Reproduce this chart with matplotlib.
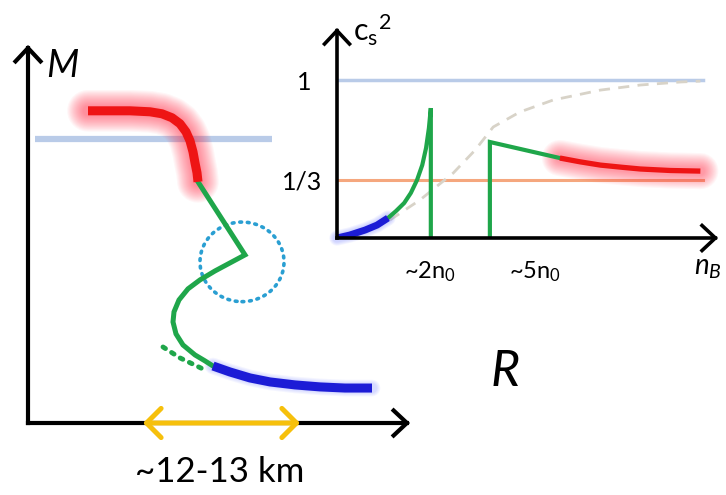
import numpy as np
import matplotlib.pyplot as plt
from matplotlib.patches import Ellipse

plt.rcParams['font.family'] = ['Lato', 'DejaVu Sans']
plt.rcParams['mathtext.fontset'] = 'custom'
plt.rcParams['mathtext.rm'] = 'Lato'
plt.rcParams['mathtext.it'] = 'Lato:italic'

W, H = 726, 495

# mass-radius sketch (R arbitrary units, M in solar masses)
R_hadron = [2.4, 3.28, 4.08, 4.88, 5.36, 5.76, 6.08, 6.32, 6.48, 6.6, 6.68, 6.76, 6.8]
M_hadron = [2.197, 2.197, 2.197, 2.19, 2.176, 2.148, 2.106, 2.049, 1.986, 1.908,
            1.831, 1.761, 1.697]
R_mixed = [6.8, 8.68, 7.48, 6.88, 6.4, 6.04, 5.84, 5.8, 5.92, 6.2, 6.68, 7.08, 7.4]
M_mixed = [1.697, 1.183, 1.070, 1.007, 0.944, 0.866, 0.782, 0.711, 0.627, 0.549,
           0.479, 0.437, 0.401]
R_low = [7.4, 8.08, 8.88, 9.68, 10.68, 11.68, 12.68, 13.76]
M_low = [0.401, 0.359, 0.317, 0.289, 0.268, 0.254, 0.246, 0.246]
R_dot = [5.4, 6.08, 7.08]
M_dot = [0.535, 0.458, 0.373]
M_obs = 2.0
R_obs = [0.28, 9.76]
R_span = [4.6, 10.88]          # ~12-13 km band
twist = (8.56, 1.134, 3.36, 0.56)  # circled kink: R, M, width, height

# speed of sound sketch (n_B in units of n0)
n_low = [0.0, 0.27, 0.59, 0.84, 1.07]
c2_low = [-0.053, -0.033, 0.0, 0.033, 0.08]
n_rise = [1.07, 1.24, 1.41, 1.55, 1.68, 1.79, 1.87, 1.93, 1.97, 1.97]
c2_rise = [0.08, 0.127, 0.18, 0.247, 0.333, 0.433, 0.547, 0.68, 0.813, -0.053]
n_jump = [3.21, 3.21, 4.68]
c2_jump = [-0.053, 0.587, 0.48]
n_high = [4.68, 5.1, 5.53, 6.0, 6.37, 7.0, 7.63]
c2_high = [0.48, 0.455, 0.433, 0.418, 0.407, 0.397, 0.393]
n_smooth = [1.11, 1.74, 2.44, 2.90, 3.28, 3.84, 4.54, 5.53, 6.37, 7.21, 7.63]
c2_smooth = [0.067, 0.2, 0.38, 0.533, 0.687, 0.787, 0.867, 0.933, 0.967, 0.987, 0.993]
n_limits = [0.0, 7.69]
c2_causal = 1.0
c2_conformal = 1 / 3

RED = '#ee1414'
GREEN = '#1fa64a'
BLUE = '#1c1cd6'


def px_box(left, right, top, bottom):
    return [left / W, 1 - bottom / H, (right - left) / W, (bottom - top) / H]


def glow(ax, x, y, color, wmax, wmin, alpha):
    # stack of wide translucent strokes -> soft halo
    for w in np.arange(wmax, wmin, -1.5):
        ax.plot(x, y, color=color, lw=w, alpha=alpha, solid_capstyle='round',
                solid_joinstyle='round', clip_on=False)


def axis_arrows(ax, lw):
    style = dict(arrowstyle='->, head_length=0.32, head_width=0.3', lw=lw,
                 color='black', shrinkA=0, shrinkB=0, mutation_scale=30,
                 joinstyle='miter', capstyle='projecting')
    ax.annotate('', xy=(1, 0), xytext=(0, 0), xycoords='axes fraction', arrowprops=style)
    ax.annotate('', xy=(0, 1), xytext=(0, 0), xycoords='axes fraction', arrowprops=style)


fig = plt.figure(figsize=(W / 100, H / 100), dpi=100)

# left: M(R)
ax = fig.add_axes(px_box(28, 410, 45, 423))
ax.set_xlim(0, 15.28)
ax.set_ylim(0, 2.66)
ax.axis('off')
axis_arrows(ax, 3.0)

ax.plot(R_obs, [M_obs, M_obs], color='#b9cbe8', lw=4.5, solid_capstyle='butt')
glow(ax, R_hadron, M_hadron, '#ff3048', 30, 7, 0.045)
glow(ax, R_low, M_low, '#5060ff', 12, 6, 0.06)
ax.plot(R_mixed, M_mixed, color=GREEN, lw=3.6, solid_joinstyle='miter')
ax.plot(R_hadron, M_hadron, color=RED, lw=6.5, solid_capstyle='butt')
ax.plot(R_low, M_low, color=BLUE, lw=6.5, solid_capstyle='butt')
ax.plot(R_dot, M_dot, color=GREEN, lw=3.5, ls=(0, (0.6, 1.5)), dash_capstyle='round')
ax.add_patch(Ellipse(twist[:2], twist[2], twist[3], fill=False, ec='#2a9fd2', lw=2.6,
                     ls=(0, (0.5, 1.6)), capstyle='round'))
ax.annotate('', xy=(R_span[1], 0), xytext=(R_span[0], 0),
            arrowprops=dict(arrowstyle='<->, head_length=0.35, head_width=0.35',
                            lw=3.6, color='#f6c00c', shrinkA=0, shrinkB=0,
                            mutation_scale=30))

fig.text(62 / W, 1 - 66 / H, 'M', fontsize=27, style='italic', ha='center', va='center')
fig.text(505 / W, 1 - 372 / H, 'R', fontsize=36, style='italic', ha='center', va='center')
fig.text(220 / W, 1 - 472 / H, '~12-13 km', fontsize=25, ha='center', va='center')

# inset: c_s^2(n_B)
ins = fig.add_axes(px_box(337, 718, 28, 238))
ins.patch.set_alpha(0)
ins.set_xlim(0, 8.0)
ins.set_ylim(-0.053, 1.347)
ins.axis('off')
axis_arrows(ins, 2.6)

ins.plot(n_limits, [c2_causal] * 2, color='#b9cbe8', lw=2.5)
ins.plot(n_limits, [c2_conformal] * 2, color='#f5a77e', lw=2.2)
ins.plot(n_smooth, c2_smooth, color='#d8d3c8', lw=2.0, ls=(0, (4, 3)))
glow(ins, n_high, c2_high, '#ff3048', 26, 6, 0.045)
glow(ins, n_low, c2_low, '#5060ff', 11, 5, 0.07)
ins.plot(n_rise, c2_rise, color=GREEN, lw=3.0, solid_joinstyle='miter')
ins.plot(n_jump, c2_jump, color=GREEN, lw=3.0, solid_joinstyle='miter')
ins.plot(n_high, c2_high, color=RED, lw=3.8, solid_capstyle='butt')
ins.plot(n_low, c2_low, color=BLUE, lw=5.0, solid_capstyle='butt')

fig.text(304 / W, 1 - 82 / H, '1', fontsize=18, ha='center', va='center')
fig.text(302 / W, 1 - 182 / H, '1/3', fontsize=18, ha='center', va='center')
fig.text(430 / W, 1 - 272 / H, r'~2n$_0$', fontsize=17, ha='center', va='center')
fig.text(535 / W, 1 - 272 / H, r'~5n$_0$', fontsize=17, ha='center', va='center')
fig.text(708 / W, 1 - 268 / H, r'$n_B$', fontsize=20, ha='center', va='center')
fig.text(372 / W, 1 - 30 / H, r'$\mathrm{c_s}^{\mathrm{2}}$', fontsize=22,
         ha='center', va='center')

fig.savefig('out.png', dpi=100)
